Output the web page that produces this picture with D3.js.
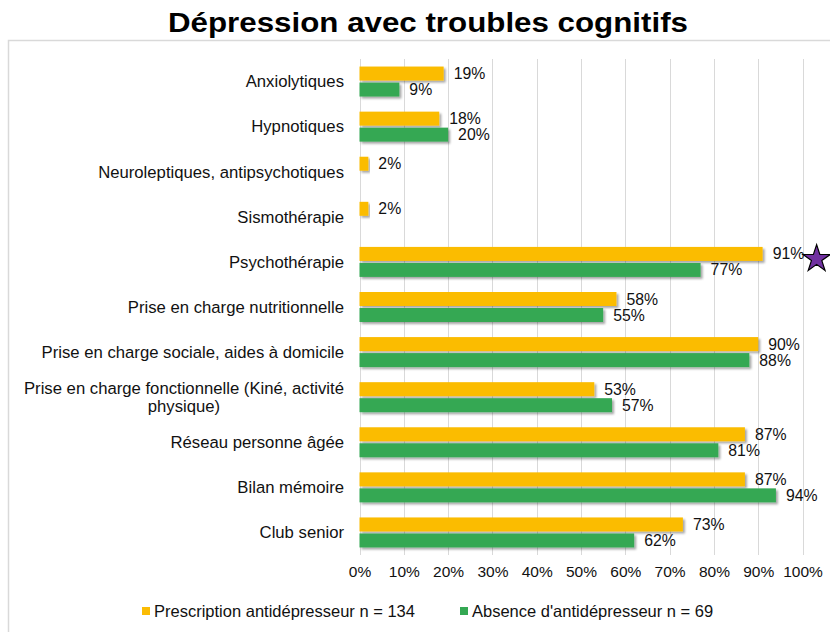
<!DOCTYPE html>
<html><head><meta charset="utf-8">
<script src="https://cdn.jsdelivr.net/npm/d3@7/dist/d3.min.js"></script>
<style>
html,body{margin:0;padding:0;background:#fff;}
svg{display:block;font-family:"Liberation Sans",Arial,sans-serif;}
</style></head>
<body>
<svg id="chart" width="830" height="632"></svg>
<script>
const title = "Dépression avec troubles cognitifs";
const categories = [
  "Anxiolytiques",
  "Hypnotiques",
  "Neuroleptiques, antipsychotiques",
  "Sismothérapie",
  "Psychothérapie",
  "Prise en charge nutritionnelle",
  "Prise en charge sociale, aides à domicile",
  "Prise en charge fonctionnelle (Kiné, activité physique)",
  "Réseau personne âgée",
  "Bilan mémoire",
  "Club senior"
];
const categoryLines = [
  ["Anxiolytiques"],
  ["Hypnotiques"],
  ["Neuroleptiques, antipsychotiques"],
  ["Sismothérapie"],
  ["Psychothérapie"],
  ["Prise en charge nutritionnelle"],
  ["Prise en charge sociale, aides à domicile"],
  ["Prise en charge fonctionnelle (Kiné, activité", "physique)"],
  ["Réseau personne âgée"],
  ["Bilan mémoire"],
  ["Club senior"]
];
const seriesNames = ["Prescription antidépresseur n = 134", "Absence d'antidépresseur n = 69"];
const prescription = [19, 18, 2, 2, 91, 58, 90, 53, 87, 87, 73];
const absence = [9, 20, null, null, 77, 55, 88, 57, 81, 94, 62];
const tickValues = [0, 10, 20, 30, 40, 50, 60, 70, 80, 90, 100];
const starCategory = "Psychothérapie";

const colors = ["#FBBC04", "#34A853"];
const svg = d3.select("#chart");

// shadow filter
const defs = svg.append("defs");
const f = defs.append("filter").attr("id", "sh").attr("x", "-5%").attr("y", "-30%").attr("width", "115%").attr("height", "180%");
f.append("feDropShadow").attr("dx", 2).attr("dy", 2).attr("stdDeviation", 1.2)
  .attr("flood-color", "#000").attr("flood-opacity", 0.35);

// chart border
svg.append("rect").attr("x", 8.5).attr("y", 40.5).attr("width", 840).attr("height", 640)
  .attr("fill", "none").attr("stroke", "#d9d9d9").attr("stroke-width", 1.5);

// title
svg.append("text").attr("x", 428).attr("y", 32).attr("text-anchor", "middle")
  .attr("font-size", 27.5).attr("font-weight", "bold").attr("fill", "#000")
  .attr("textLength", 520).attr("lengthAdjust", "spacingAndGlyphs").text(title);

const x = d3.scaleLinear().domain([0, 100]).range([359.5, 802.5]);
const y = d3.scaleBand().domain(categories).range([59, 555]);
const inner = d3.scaleBand().domain([0, 1]).range([0, 30]).paddingInner(0.125);

// gridlines
svg.append("g").selectAll("line").data(tickValues).join("line")
  .attr("x1", d => Math.round(x(d)) + 0.5).attr("x2", d => Math.round(x(d)) + 0.5)
  .attr("y1", 59).attr("y2", 555).attr("stroke", "#d9d9d9").attr("stroke-width", 1);

// axis tick labels
const xAxis = d3.axisBottom(x).tickValues(tickValues).tickFormat(d => d + "%").tickSize(0).tickPadding(0);
const ax = svg.append("g").attr("transform", "translate(0,566)").call(xAxis);
ax.select(".domain").remove();
ax.selectAll("text").attr("font-size", 15.5).attr("fill", "#111")
  .attr("font-family", "Liberation Sans, Arial, sans-serif");

// category labels
const catFont = 16.7;
const catG = svg.append("g");
categories.forEach((c, i) => {
  const cy = y(c) + y.bandwidth() / 2;
  const lines = categoryLines[i];
  const t = catG.append("text").attr("font-size", catFont).attr("fill", "#111");
  if (lines.length === 1) {
    t.attr("x", 344).attr("y", cy).attr("dy", "0.35em").attr("text-anchor", "end").text(lines[0]);
  } else {
    const tmp = catG.append("text").attr("font-size", catFont).text(lines[0]);
    const w = tmp.node().getComputedTextLength();
    tmp.remove();
    const cx = 344 - w / 2;
    lines.forEach((ln, k) => {
      t.append("tspan").attr("x", cx).attr("y", cy + (k - (lines.length - 1) / 2) * 17.5)
        .attr("dy", "0.35em").attr("text-anchor", "middle").text(ln);
    });
  }
});

// bars
const series = [prescription, absence];
const barG = svg.append("g");
series.forEach((vals, s) => {
  const data = categories.map((c, i) => ({c, v: vals[i]})).filter(d => d.v != null);
  barG.selectAll(null).data(data).join("rect")
    .attr("x", x(0))
    .attr("y", d => y(d.c) + y.bandwidth() / 2 - 15 + inner(s))
    .attr("width", d => x(d.v) - x(0))
    .attr("height", inner.bandwidth())
    .attr("fill", colors[s])
    .attr("filter", "url(#sh)");
  barG.selectAll(null).data(data).join("text")
    .attr("x", d => x(d.v) + 10)
    .attr("y", d => y(d.c) + y.bandwidth() / 2 - 15 + inner(s) + inner.bandwidth() / 2)
    .attr("dy", "0.35em")
    .attr("font-size", 15.8).attr("fill", "#111")
    .text(d => d.v + "%");
});

// star marker
const si = categories.indexOf(starCategory);
svg.append("path")
  .attr("d", d3.symbol(d3.symbolStar, 230)())
  .attr("transform", `translate(${x(prescription[si]) + 54},${y(starCategory) + y.bandwidth() / 2 - 3})`)
  .attr("fill", "#7030A0").attr("stroke", "#000").attr("stroke-width", 1.2);

// legend
const legendX = [142, 460];
const lg = svg.append("g");
seriesNames.forEach((n, s) => {
  lg.append("rect").attr("x", legendX[s]).attr("y", 607).attr("width", 8).attr("height", 8).attr("fill", colors[s]);
  lg.append("text").attr("x", legendX[s] + 12).attr("y", 611).attr("dy", "0.35em")
    .attr("font-size", 16.5).attr("fill", "#111").text(n);
});
</script>
</body></html>
